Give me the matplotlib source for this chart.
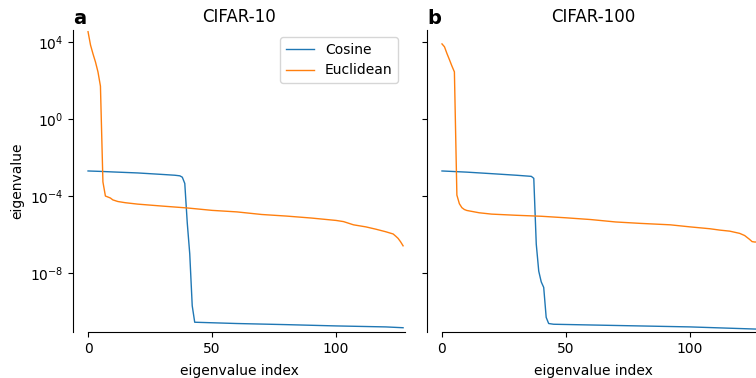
import matplotlib
matplotlib.use("Agg")
import matplotlib.pyplot as plt

# values (index, eigenvalue)
cifar10_cos_idx = [0, 5, 10, 20, 30, 35, 37, 38, 39, 40, 41, 42, 43, 60, 80, 100, 120, 127]
cifar10_cos_val = [2.0e-3, 1.9e-3, 1.78e-3, 1.58e-3, 1.32e-3, 1.2e-3, 1.12e-3, 9.5e-4, 4.5e-4,
                   4.0e-6, 1.0e-7, 2.0e-10, 2.8e-11, 2.4e-11, 2.1e-11, 1.8e-11, 1.6e-11, 1.45e-11]

cifar10_euc_idx = [0, 1, 2, 3, 4, 5, 6, 7, 8, 9, 10, 12, 15, 20, 30, 40, 50, 60, 70, 80, 90,
                   100, 103, 107, 112, 116, 120, 123, 124, 125, 126, 127]
cifar10_euc_val = [3.4e4, 6.9e3, 2.4e3, 9.1e2, 2.8e2, 51, 5.4e-4, 1.0e-4, 8.9e-5, 7.9e-5, 6.3e-5,
                   5.2e-5, 4.5e-5, 3.8e-5, 3.0e-5, 2.4e-5, 1.8e-5, 1.5e-5, 1.1e-5, 9.1e-6, 7.2e-6,
                   5.4e-6, 4.7e-6, 3.2e-6, 2.5e-6, 1.9e-6, 1.4e-6, 1.07e-6, 8.3e-7, 6.3e-7, 4.2e-7, 2.6e-7]

cifar100_cos_idx = [0, 10, 20, 30, 36, 37, 38, 39, 40, 41, 42, 43, 45, 70, 100, 127]
cifar100_cos_val = [2.0e-3, 1.74e-3, 1.45e-3, 1.2e-3, 1.05e-3, 8.3e-4, 3.2e-7, 1.26e-8, 3.5e-9,
                    1.8e-9, 5.0e-11, 2.4e-11, 2.2e-11, 1.9e-11, 1.6e-11, 1.23e-11]

cifar100_euc_idx = [0, 1, 2, 3, 4, 5, 6, 7, 8, 9, 10, 15, 20, 30, 40, 50, 60, 70, 80, 92, 100,
                    108, 112, 116, 120, 122, 124, 125, 126, 127]
cifar100_euc_val = [7.9e3, 5.6e3, 2.5e3, 1.2e3, 5.6e2, 2.8e2, 1.12e-4, 4.0e-5, 2.5e-5, 2.0e-5,
                    1.78e-5, 1.35e-5, 1.15e-5, 1.0e-5, 8.9e-6, 7.4e-6, 6.0e-6, 4.5e-6, 3.8e-6,
                    3.2e-6, 2.5e-6, 2.0e-6, 1.7e-6, 1.5e-6, 1.15e-6, 8.9e-7, 5.6e-7, 4.3e-7,
                    4.1e-7, 4.1e-7]

titles = ["CIFAR-10", "CIFAR-100"]
letters = ["a", "b"]
yticks = [1e4, 1e0, 1e-4, 1e-8]

fig = plt.figure(figsize=(7.56, 3.78), dpi=100)
ax1 = fig.add_axes([0.0966, 0.1217, 0.4392, 0.7989])
ax2 = fig.add_axes([0.5648, 0.1217, 0.4392, 0.7989], sharey=ax1)

series = [(cifar10_cos_idx, cifar10_cos_val, cifar10_euc_idx, cifar10_euc_val),
          (cifar100_cos_idx, cifar100_cos_val, cifar100_euc_idx, cifar100_euc_val)]

for ax, (ci, cv, ei, ev), title, letter in zip([ax1, ax2], series, titles, letters):
    ax.plot(ci, cv, color="tab:blue", lw=1.0, label="Cosine")
    ax.plot(ei, ev, color="tab:orange", lw=1.0, label="Euclidean")
    ax.set_yscale("log")
    ax.set_xlim(-6.05, 127.8)
    ax.set_ylim(10 ** -11.06, 10 ** 4.62)
    ax.set_yticks(yticks)
    ax.minorticks_off()
    ax.set_xticks([0, 50, 100])
    ax.spines["top"].set_visible(False)
    ax.spines["right"].set_visible(False)
    ax.spines["bottom"].set_bounds(0, 127.8)
    ax.set_xlabel("eigenvalue index", labelpad=6)
    ax.set_title(title, fontsize=12, pad=6)
    ax.text(0.0, 1.02, letter, transform=ax.transAxes, fontsize=14,
            fontweight="bold", ha="left", va="baseline")

ax1.set_ylabel("eigenvalue")
ax1.legend(loc="upper right")
plt.setp(ax2.get_yticklabels(), visible=False)

fig.savefig("out.png", dpi=100)
